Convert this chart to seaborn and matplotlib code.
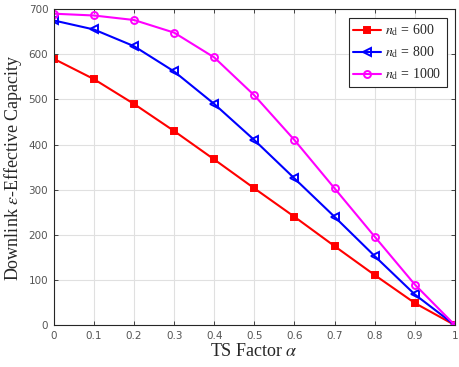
import numpy as np
import pandas as pd
import matplotlib
matplotlib.use("Agg")
import matplotlib.pyplot as plt
import seaborn as sns

alpha = [0, 0.1, 0.2, 0.3, 0.4, 0.5, 0.6, 0.7, 0.8, 0.9, 1.0]
cap_600 = [590, 545, 490, 430, 367, 303, 240, 175, 111, 49, 0]
cap_800 = [675, 655, 618, 562, 490, 410, 325, 240, 153, 68, 0]
cap_1000 = [690, 686, 676, 648, 593, 509, 410, 303, 196, 90, 0]
labels = [r"$n_{\rm d}$ = 600", r"$n_{\rm d}$ = 800", r"$n_{\rm d}$ = 1000"]
xticks = [0, 0.1, 0.2, 0.3, 0.4, 0.5, 0.6, 0.7, 0.8, 0.9, 1]
yticks = [0, 100, 200, 300, 400, 500, 600, 700]

sns.set_theme(style="whitegrid")
plt.rcParams['mathtext.fontset'] = 'stix'

fig, ax = plt.subplots(figsize=(4.6, 3.67), dpi=100)
fig.subplots_adjust(left=0.117, right=0.989, top=0.975, bottom=0.114)

series = [
    (cap_600, labels[0], "#ff0000", "s", 4.0, dict(markerfacecolor="#ff0000")),
    (cap_800, labels[1], "#0000ff", "<", 6.0, dict(markerfacecolor="none")),
    (cap_1000, labels[2], "#ff00ff", "o", 5.0, dict(markerfacecolor="none")),
]
for vals, lab, col, mk, ms, kw in series:
    df = pd.DataFrame({"alpha": alpha, "cap": vals})
    sns.lineplot(data=df, x="alpha", y="cap", ax=ax, color=col, marker=mk,
                 label=lab, linewidth=1.5, markersize=ms,
                 markeredgecolor=col, markeredgewidth=1.4, **kw)

ax.set_xlim(0, 1)
ax.set_ylim(0, 700)
ax.set_xticks(xticks)
ax.set_xticklabels([f"{t:g}" for t in xticks])
ax.set_yticks(yticks)
ax.grid(True, color="#e0e0e0", linewidth=0.8)
ax.set_facecolor("white")
for s in ax.spines.values():
    s.set_visible(True)
    s.set_color("#262626")
    s.set_linewidth(0.8)
ax.tick_params(axis="both", direction="in", length=3, width=0.6, colors="#262626",
               labelsize=7.5, labelcolor="#555555", top=True, right=True,
               bottom=True, left=True, pad=4)

ax.set_xlabel(r"TS Factor $\alpha$", fontsize=13, family="Liberation Serif", labelpad=2)
ax.set_ylabel(r"Downlink $\epsilon$-Effective Capacity", fontsize=13,
              family="Liberation Serif", labelpad=3)

leg = ax.legend(loc="upper right", frameon=True, fancybox=False,
                edgecolor="#262626", framealpha=1, handlelength=2.0,
                borderpad=0.35, labelspacing=0.45, handletextpad=0.3,
                borderaxespad=0.6,
                prop={"family": "Liberation Serif", "size": 10})
leg.get_frame().set_linewidth(0.8)

fig.savefig("out.png", dpi=100)
